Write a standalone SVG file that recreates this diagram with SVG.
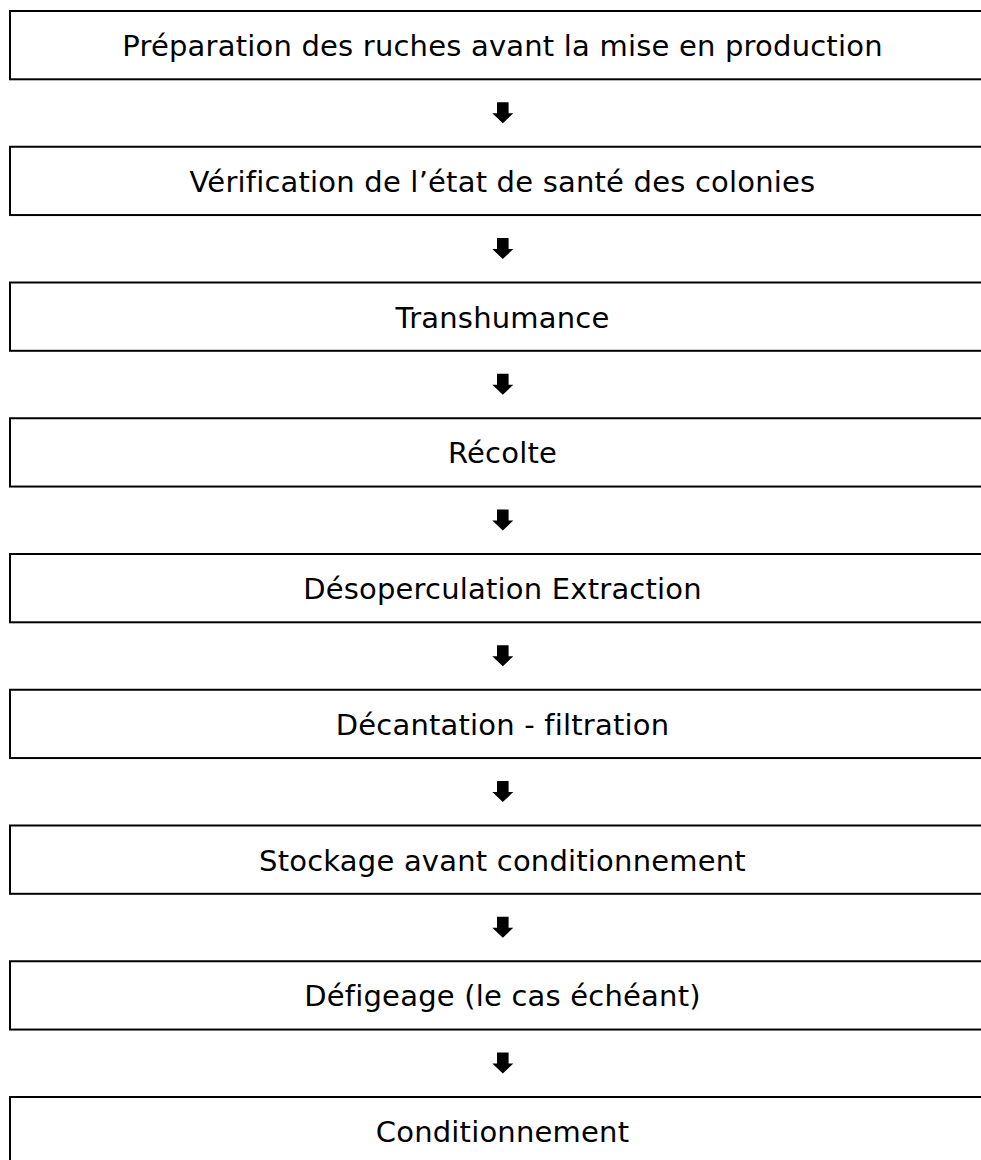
<svg xmlns="http://www.w3.org/2000/svg" xmlns:xlink="http://www.w3.org/1999/xlink" width="981" height="1160" viewBox="0 0 981 1160">
<style>
.box{fill:#fff;stroke:#000;stroke-width:2}
.lbl{font-family:"DejaVu Sans","Verdana",sans-serif;font-size:29px;letter-spacing:0.2px;fill:#000;text-anchor:middle}
.arr{fill:#000}
</style>
<defs>
<polygon id="dn" points="-5.8,0 5.8,0 5.8,11 10.5,11 0,21 -10.5,11 -5.8,11"/>
</defs>
<rect width="981" height="1160" fill="#fff"/>
<g id="n1"><rect class="box" x="10" y="11" width="1000" height="68.3"/><text class="lbl" x="502.5" y="56">Préparation des ruches avant la mise en production</text></g>
<g id="n2"><rect class="box" x="10" y="146.75" width="1000" height="68.3"/><text class="lbl" x="502.5" y="191.75">Vérification de l’état de santé des colonies</text></g>
<g id="n3"><rect class="box" x="10" y="282.5" width="1000" height="68.3"/><text class="lbl" x="502.5" y="327.5">Transhumance</text></g>
<g id="n4"><rect class="box" x="10" y="418.25" width="1000" height="68.3"/><text class="lbl" x="502.5" y="463.25">Récolte</text></g>
<g id="n5"><rect class="box" x="10" y="554" width="1000" height="68.3"/><text class="lbl" x="502.5" y="599">Désoperculation Extraction</text></g>
<g id="n6"><rect class="box" x="10" y="689.75" width="1000" height="68.3"/><text class="lbl" x="502.5" y="734.75">Décantation - filtration</text></g>
<g id="n7"><rect class="box" x="10" y="825.5" width="1000" height="68.3"/><text class="lbl" x="502.5" y="870.5">Stockage avant conditionnement</text></g>
<g id="n8"><rect class="box" x="10" y="961.25" width="1000" height="68.3"/><text class="lbl" x="502.5" y="1006.25">Défigeage (le cas échéant)</text></g>
<g id="n9"><rect class="box" x="10" y="1097" width="1000" height="68.3"/><text class="lbl" x="502.5" y="1142">Conditionnement</text></g>
<g id="connectors" class="arr">
<use xlink:href="#dn" x="502.8" y="102.3"/>
<use xlink:href="#dn" x="502.8" y="238.05"/>
<use xlink:href="#dn" x="502.8" y="373.8"/>
<use xlink:href="#dn" x="502.8" y="509.55"/>
<use xlink:href="#dn" x="502.8" y="645.3"/>
<use xlink:href="#dn" x="502.8" y="781.05"/>
<use xlink:href="#dn" x="502.8" y="916.8"/>
<use xlink:href="#dn" x="502.8" y="1052.55"/>
</g>
</svg>
